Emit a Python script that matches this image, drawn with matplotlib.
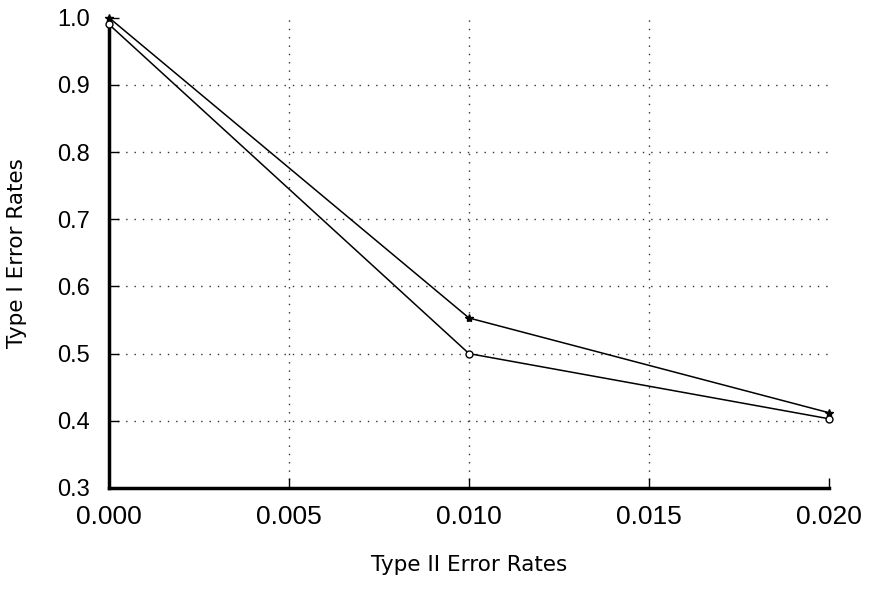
import matplotlib.pyplot as plt

type2 = [0.0, 0.010, 0.020]
series_a = [1.0, 0.553, 0.412]
series_b = [0.99, 0.500, 0.403]
xticks = [0.000, 0.005, 0.010, 0.015, 0.020]
yticks = [0.3, 0.4, 0.5, 0.6, 0.7, 0.8, 0.9, 1.0]

plt.rcParams['font.family'] = ['Liberation Sans', 'DejaVu Sans']

fig = plt.figure(figsize=(8.69, 5.89), dpi=100)
ax = fig.add_axes([0.1254, 0.1715, 0.8286, 0.7985])

ax.plot(type2, series_a, color='black', lw=1.1, marker='*', markersize=6,
        clip_on=False, zorder=3)
ax.plot(type2, series_b, color='black', lw=1.1, marker='o', markersize=5,
        markerfacecolor='white', clip_on=False, zorder=3)

ax.set_xlim(0, 0.020)
ax.set_ylim(0.3, 1.0)
ax.set_xticks(xticks)
ax.set_xticklabels(['%.3f' % v for v in xticks])
ax.set_yticks(yticks)
ax.set_yticklabels(['%.1f' % v for v in yticks])
ax.tick_params(direction='in', length=7, width=1)
ax.tick_params(axis='x', labelsize=19, pad=12)
ax.tick_params(axis='y', labelsize=17, pad=14)

ax.grid(True, linestyle=(0, (1, 5)), color='#333333', lw=1)
# no grid on the axis edges
ax.xaxis.get_gridlines()[0].set_visible(False)
ax.xaxis.get_gridlines()[-1].set_visible(False)
ax.yaxis.get_gridlines()[0].set_visible(False)
ax.yaxis.get_gridlines()[-1].set_visible(False)

ax.spines['top'].set_visible(False)
ax.spines['right'].set_visible(False)
ax.spines['left'].set_linewidth(2.5)
ax.spines['bottom'].set_linewidth(2.5)

ax.set_xlabel('Type II Error Rates', family='DejaVu Sans', fontsize=15.5,
              labelpad=19)
ax.set_ylabel('Type I Error Rates', family='DejaVu Sans', fontsize=15.5,
              labelpad=21)

fig.savefig('out.png', dpi=100)
